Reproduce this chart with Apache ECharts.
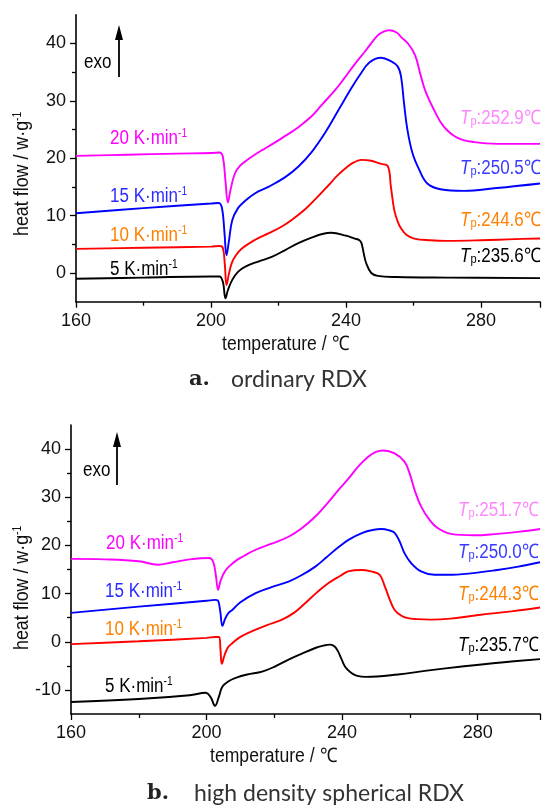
<!DOCTYPE html>
<html><head><meta charset="utf-8">
<script src="https://cdn.jsdelivr.net/npm/echarts@6/dist/echarts.min.js"></script>
<style>html,body{margin:0;padding:0;background:#fff}#c{width:543px;height:805px}</style>
</head><body><div id="c"></div>
<script>
// ---- Data: chart a (ordinary RDX) ----
const tA20=[160,175,190,200,202.5,203.5,204.3,205,205.8,207,208.5,211,214,216,218,221,225.9,229.8,232.7,236.7,239.6,242.5,245.5,249.4,251,252.8,255,256.5,258.5,260.5,262.2,263.6,266.1,269,272.9,278,285,297.5];
const vA20=[20.4,20.6,20.8,20.9,21.0,20.3,16.0,12.3,14.5,17.2,18.6,19.8,21.0,21.7,22.4,23.5,25.4,27.3,29.2,31.8,34.0,36.3,38.5,41.4,42.0,42.3,41.9,41.0,39.9,37.9,34.3,31.6,28.4,25.5,23.6,22.8,22.5,22.5];
const tA15=[160,180,200,202.3,203.3,204,204.6,205.3,206.3,208,210,213.1,217,222,226,230,234,238,241,244,247,250.4,253.3,255.3,256.3,257.2,258.2,259.7,261.7,264.1,268,274.9,284.7,297.5];
const vA15=[10.4,11.3,12.1,12.2,11.2,7.0,3.1,5.5,9.2,11.3,12.5,13.9,15.0,16.7,18.6,21.2,24.6,28.6,31.6,34.4,36.7,37.5,36.9,36.0,34.3,29.6,25.0,20.9,18.0,15.6,14.6,14.3,14.8,15.6];
const tA10=[160,180,200,202.5,203.5,204.1,204.6,205.3,206.2,207.3,209,213.1,217,221,224.5,227.9,231,234.7,237.5,240.6,242.5,244.5,247,250.4,252.4,253.3,254.3,255.3,256.3,258,260.2,265,270,280,290,297.5];
const vA10=[4.2,4.4,4.6,4.7,4.4,1.5,-2.1,-0.2,1.8,3.0,4.2,5.8,6.9,8.1,9.5,11.1,12.9,15.2,17.0,18.6,19.3,19.7,19.6,19.0,18.6,15.1,11.0,9.0,7.8,6.6,6.0,5.7,5.6,5.7,5.9,6.0];
const tA5=[160,180,200,202.5,203.5,204.3,205,206.3,208,210.2,214,218,222,225.9,230,233,235.7,240,242.6,244,244.6,245.2,246,247.5,249.4,255,270,297.5];
const vA5=[-1.0,-0.8,-0.6,-0.6,-1.5,-4.4,-3.0,-1.2,0.2,1.1,2.0,2.8,4.0,5.2,6.2,6.8,7.0,6.5,6.0,5.7,5.2,3.6,1.7,0.0,-0.5,-0.7,-0.8,-0.9];
// ---- Data: chart b (high density spherical RDX) ----
const tB20=[160,170,180,185.6,190,195,200.8,202,202.8,203.4,204.2,205.3,206.6,209,211,214.5,219,224.2,228,232.1,235.5,238.9,241.8,244.8,247.7,250,252.1,255.5,258.4,259.9,261.4,263.3,265.8,268.2,272.1,279,285.8,292,298.4];
const vB20=[17.2,17.1,16.7,16.0,16.5,17.1,17.4,16.5,13.5,10.8,12.8,14.5,15.6,17.0,17.8,19.1,20.3,21.8,23.5,26.0,28.6,31.5,33.8,36.4,38.4,39.4,39.7,39.1,37.4,35.0,31.5,28.1,25.3,23.6,22.4,22.1,22.4,22.8,23.4];
const tB15=[160,180,200,202.5,203.3,204,204.7,205.5,206.5,207.6,210,214.5,219,224.2,228,232.1,235.5,238.9,242,246,249,251.6,254,255.5,257,258.4,260.4,263.3,267.2,271.1,278,285.8,292,298.4];
const vB15=[6.0,7.3,8.5,8.7,8.6,6.5,3.3,4.8,6.0,6.6,8.2,10.1,11.3,12.5,13.8,15.6,17.6,19.6,21.2,22.6,23.2,23.4,23.1,22.6,20.8,18.4,16.3,14.6,13.9,13.9,14.2,14.9,15.6,16.5];
const tB10=[160,180,200,202.5,203.7,204.1,204.5,205.3,206.3,207.6,210,214.5,218,222.3,226,229.1,232.5,236,239.5,241.8,245.7,248.5,251.1,252.6,254.1,255.5,257.5,259.4,262,266.2,272,280.9,290,298.4];
const vB10=[-0.5,0.1,0.8,1.0,1.0,-1.5,-4.6,-2.8,-1.2,-0.3,1.0,2.5,3.5,4.6,6.1,8.0,10.2,12.2,13.7,14.6,14.9,14.6,13.9,11.5,8.7,6.6,5.4,4.9,4.7,4.6,4.8,5.6,6.3,7.1];
const tB5=[160,180,195,199.8,201.2,202.5,203.6,204.7,206.5,208.6,212,216.4,220,224.2,228,232.1,234.5,236.5,237.8,238.8,239.7,240.8,241.8,243,244.5,247,256.5,265,276,287,298.4];
const vB5=[-12.5,-11.9,-11.1,-10.6,-11.5,-13.3,-11.5,-9.3,-8.2,-7.5,-6.8,-6.2,-5.2,-3.7,-2.5,-1.3,-0.8,-0.6,-1.0,-2.0,-3.4,-5.1,-5.9,-6.6,-7.1,-7.3,-6.8,-6.0,-5.1,-4.3,-3.6];
// ---- Tick labels / texts ----
const xTicks=[160,200,240,280];
const yTicksA=[0,10,20,30,40];
const yMinorA=[5,15,25,35];
const yTicksB=[-10,0,10,20,30,40];
const yMinorB=[-5,5,15,25,35];
const rateLabels=['20','15','10','5'];
const tpA=['252.9','250.5','244.6','235.6'];
const tpB=['251.7','250.0','244.3','235.7'];
const lineColors=['#ff00ff','#0000ff','#ff0000','#000000'];
const rateColors=['#ff00ff','#2a2aff','#ff8000','#000000'];
const tpColors=['#ff88ff','#3b3bff','#ff8000','#000000'];

const zip=(t,v)=>t.map((x,i)=>[x,v[i]]);
const FONT='"Liberation Sans", Arial, sans-serif';
const SX=0.85;
const chart=echarts.init(document.getElementById('c'),null,{renderer:'canvas'});

function xAx(gi,max){return {type:'value',gridIndex:gi,min:160,max:max,interval:40,
  axisLine:{show:true,onZero:false,lineStyle:{color:'#000',width:1.6}},
  axisTick:{show:true,length:6,lineStyle:{color:'#000',width:1.3}},
  minorTick:{show:true,splitNumber:2,length:4,lineStyle:{color:'#000',width:1.3}},
  axisLabel:{fontSize:18,color:'#111',fontFamily:FONT,margin:10,formatter:v=>xTicks.includes(v)?String(v):''},
  splitLine:{show:false},minorSplitLine:{show:false}};}
function yAx(gi,min,ticks,minor){return [
 {type:'value',gridIndex:gi,min:min,max:45,interval:5,
  axisLine:{show:true,onZero:false,lineStyle:{color:'#000',width:1.6}},
  axisTick:{show:true,length:6,customValues:ticks,lineStyle:{color:'#000',width:1.3}},
  axisLabel:{fontSize:18,color:'#111',fontFamily:FONT,margin:10,customValues:ticks},
  splitLine:{show:false}},
 {type:'value',gridIndex:gi,min:min,max:45,interval:5,position:'left',
  axisLine:{show:false},
  axisTick:{show:true,length:4,customValues:minor,lineStyle:{color:'#000',width:1.3}},
  axisLabel:{show:false},splitLine:{show:false}}];}

const dataA=[[tA20,vA20],[tA15,vA15],[tA10,vA10],[tA5,vA5]];
const dataB=[[tB20,vB20],[tB15,vB15],[tB10,vB10],[tB5,vB5]];
const series=[];
dataA.forEach((d,i)=>series.push({type:'line',xAxisIndex:0,yAxisIndex:0,data:zip(d[0],d[1]),showSymbol:false,smooth:0.4,lineStyle:{color:lineColors[i],width:1.9},silent:true,animation:false}));
dataB.forEach((d,i)=>series.push({type:'line',xAxisIndex:1,yAxisIndex:2,data:zip(d[0],d[1]),showSymbol:false,smooth:0.4,lineStyle:{color:lineColors[i],width:1.9},silent:true,animation:false}));

const rich={
  n:{fontSize:20,fontFamily:FONT},
  s:{fontSize:12,fontFamily:FONT,verticalAlign:'top'},
  ti:{fontSize:20,fontFamily:FONT,fontStyle:'italic'},
  sb:{fontSize:13,fontFamily:FONT,verticalAlign:'bottom'}
};
function rateText(i,x,y){return {type:'text',x:x,y:y,scaleX:SX,z:10,style:{text:'{n|'+rateLabels[i]+' K·min}{s|-1}',fill:rateColors[i],rich:rich}};}
function tpText(lbl,i,x,y){return {type:'text',x:x,y:y,scaleX:SX,z:10,style:{text:'{ti|T}{sb|p}{n|:'+lbl+'℃}',fill:tpColors[i],rich:rich}};}
function arrow(x,y1,y2){return [
  {type:'line',shape:{x1:x,y1:y1+12,x2:x,y2:y2},style:{stroke:'#000',lineWidth:1.8},z:10},
  {type:'polygon',shape:{points:[[x,y1],[x-4,y1+15],[x+4,y1+15]]},style:{fill:'#000'},z:10}];}
const yName={n:{fontSize:21,fontFamily:FONT},s:{fontSize:12,fontFamily:FONT,verticalAlign:'top'}};
const cap={b:{fontSize:21,fontWeight:'bold',fontFamily:'"DejaVu Serif",serif',fill:'#222'},r:{fontSize:23,fontFamily:'Lato, "Open Sans", sans-serif',fill:'#333'}};

const graphics=[
  rateText(0,110,128),rateText(1,110,186),rateText(2,110,225),rateText(3,110,259),
  tpText(tpA[0],0,460,108),tpText(tpA[1],1,460,158),tpText(tpA[2],2,460,210),tpText(tpA[3],3,460,246),
  rateText(0,106,533),rateText(1,105,581),rateText(2,105,619),rateText(3,105,676),
  tpText(tpB[0],0,458,500),tpText(tpB[1],1,458,542),tpText(tpB[2],2,458,584),tpText(tpB[3],3,458,635),
  {type:'text',x:84,y:52,scaleX:SX,style:{text:'exo',fill:'#000',font:'20px '+FONT}},
  {type:'text',x:83,y:460,scaleX:SX,style:{text:'exo',fill:'#000',font:'20px '+FONT}},
  ...arrow(119,25,77),...arrow(117,432,485),
  {type:'text',x:222,y:334,scaleX:0.88,style:{text:'temperature / ℃',fill:'#111',font:'20px '+FONT}},
  {type:'text',x:210,y:746,scaleX:0.88,style:{text:'temperature / ℃',fill:'#111',font:'20px '+FONT}},
  {type:'text',x:12,y:236,rotation:Math.PI/2,scaleX:SX,style:{text:'{n|heat flow / w·g}{s|-1}',fill:'#111',rich:yName}},
  {type:'text',x:12,y:650,rotation:Math.PI/2,scaleX:SX,style:{text:'{n|heat flow / w·g}{s|-1}',fill:'#111',rich:yName}},
  {type:'text',x:189,y:369,style:{text:'{b|a.}',rich:cap}},
  {type:'text',x:231,y:368,style:{text:'{r|ordinary RDX}',rich:cap}},
  {type:'text',x:147,y:783,style:{text:'{b|b.}',rich:cap}},
  {type:'text',x:194,y:782,style:{text:'{r|high density spherical RDX}',rich:cap}}
];

chart.setOption({
  animation:false,
  backgroundColor:'#fff',
  grid:[{left:76,top:14.7,width:467,height:287,containLabel:false},{left:71,top:425,width:472,height:289,containLabel:false}],
  xAxis:[xAx(0,297.5),xAx(1,298.4)],
  yAxis:[...yAx(0,-5,yTicksA,yMinorA),...yAx(1,-15,yTicksB,yMinorB)],
  series:series,
  graphic:graphics
});
</script></body></html>
